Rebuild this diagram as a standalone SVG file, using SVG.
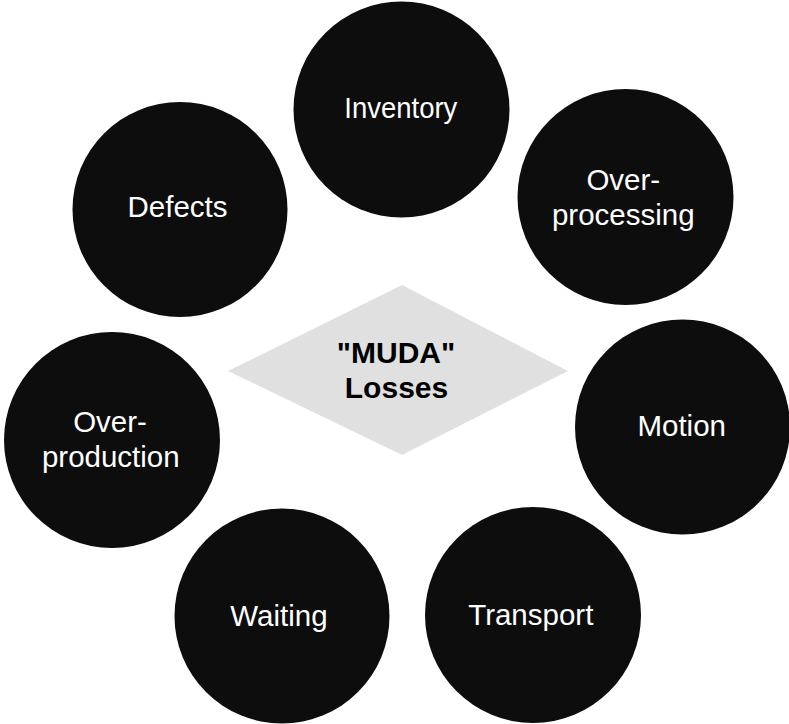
<svg xmlns="http://www.w3.org/2000/svg" width="789" height="724" viewBox="0 0 789 724">
  <style>
    .waste { fill: #0d0d0d; }
    .label { fill: #ffffff; font-family: "Liberation Sans", Arial, sans-serif; font-size: 29.5px; text-anchor: middle; }
    .hub { fill: #e0e0e0; }
    .hub-label { fill: #000000; font-family: "Liberation Sans", Arial, sans-serif; font-size: 30px; font-weight: bold; text-anchor: middle; }
  </style>
  <rect width="789" height="724" fill="#ffffff"/>

  <g id="connectors"></g>

  <!-- central hub -->
  <g id="muda">
    <polygon class="hub" points="402,285 568,371 402,455 228,371"/>
    <text class="hub-label" x="396" y="362.5">"MUDA"</text>
    <text class="hub-label" x="396.5" y="398">Losses</text>
  </g>

  <!-- seven wastes -->
  <g id="inventory">
    <circle class="waste" cx="401.5" cy="109.5" r="108"/>
    <text class="label" x="400.8" y="118.3" textLength="113" lengthAdjust="spacingAndGlyphs">Inventory</text>
  </g>
  <g id="over-processing">
    <circle class="waste" cx="625.5" cy="197" r="108"/>
    <text class="label" x="623.3" y="190">Over-</text>
    <text class="label" x="623.3" y="225">processing</text>
  </g>
  <g id="motion">
    <circle class="waste" cx="682.5" cy="427" r="107.5"/>
    <text class="label" x="681.7" y="436">Motion</text>
  </g>
  <g id="transport">
    <circle class="waste" cx="533" cy="615" r="108"/>
    <text class="label" x="530.8" y="625">Transport</text>
  </g>
  <g id="waiting">
    <circle class="waste" cx="282" cy="616" r="107.5"/>
    <text class="label" x="279" y="626">Waiting</text>
  </g>
  <g id="over-production">
    <circle class="waste" cx="112" cy="440" r="108"/>
    <text class="label" x="110" y="431.7">Over-</text>
    <text class="label" x="110.8" y="466.7">production</text>
  </g>
  <g id="defects">
    <circle class="waste" cx="180" cy="209.5" r="107.5"/>
    <text class="label" x="177.5" y="216.7">Defects</text>
  </g>
</svg>
